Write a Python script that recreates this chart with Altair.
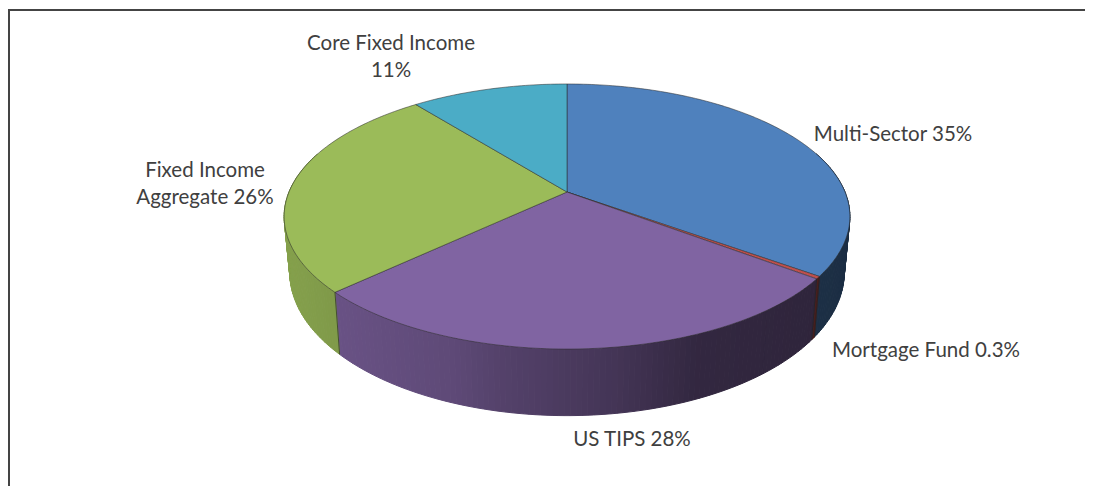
import math
import numpy as np
import altair as alt

# Data
names = ["Multi-Sector", "Mortgage Fund", "US TIPS", "Fixed Income Aggregate", "Core Fixed Income"]
shares = [35.0, 0.3, 27.7, 26.3, 10.7]
top_colors = ["#4f81bd", "#c0504d", "#8064a2", "#9bbb59", "#4bacc6"]
label_texts = ["Multi-Sector 35%", "Mortgage Fund 0.3%", "US TIPS 28%", "Fixed Income\nAggregate 26%", "Core Fixed Income\n11%"]

# Layout / style
W, H = 1077, 478
APEX = [559, 184]
RX, RY, PERSP = 278.0, 128.0, 0.185
BOTTOM_SX, BOTTOM_SY, BOTTOM_DY = 0.98, 1.08, 54.0
label_pos = [(885, 127), (918, 343), (624, 432), (197, 163), (383, 36)]
FONT = "Lato"
FONT_SIZE = 20.5
shade_x = [-283, -117, -67, 50, 130, 283]
shade_k = [0.86, 0.74, 0.66, 0.53, 0.40, 0.36]


def rim(frac):
    t = 2 * math.pi * frac
    x, y = math.sin(t), -math.cos(t)
    d = 1 - PERSP * y
    return RX * x / d, RY * y / d


def low(p):
    return p[0] * BOTTOM_SX, p[1] * BOTTOM_SY + BOTTOM_DY


def feature(coords, color, kind="Polygon"):
    geom = coords if kind == "LineString" else [coords]
    return {"type": "Feature", "properties": {"c": color},
            "geometry": {"type": kind, "coordinates": geom}}


def shaded(hex_color, x):
    k = float(np.interp(x, shade_x, shade_k))
    r, g, b = (int(hex_color[i:i + 2], 16) for i in (1, 3, 5))
    return "#%02x%02x%02x" % (int(r * k), int(g * k), int(b * k))


total = sum(shares)
walls, tops, edges = [], [], []
cum = 0.0
bounds = [0.0]
for share, color in zip(shares, top_colors):
    a, b = cum / total, (cum + share) / total
    cum += share
    bounds.append(b)
    n = max(2, int((b - a) * 360))
    fr = [a + (b - a) * i / n for i in range(n + 1)]
    for f0, f1 in zip(fr[:-1], fr[1:]):
        p0, p1 = rim(f0), rim(f1)
        q0, q1 = low(p0), low(p1)
        if 0.2 < (f0 + f1) / 2 < 0.8:
            walls.append(feature([p0, p1, q1, q0, p0], shaded(color, (p0[0] + p1[0]) / 2)))
    arc = [rim(f) for f in fr]
    tops.append(feature([[0, 0]] + arc + [[0, 0]], color))

for f in bounds:
    if 0.25 < f < 0.75:
        p = rim(f)
        edges.append(feature([p, low(p)], "#2a2a2a", "LineString"))

proj = dict(type="identity", scale=1, translate=APEX)

wall_layer = alt.Chart(alt.Data(values=walls)).mark_geoshape(strokeWidth=1).encode(
    fill=alt.Fill("properties.c:N", scale=None),
    stroke=alt.Stroke("properties.c:N", scale=None),
).project(**proj)

edge_layer = alt.Chart(alt.Data(values=edges)).mark_geoshape(
    filled=False, stroke="#222222", strokeWidth=0.8, strokeOpacity=0.8
).project(**proj)

top_layer = alt.Chart(alt.Data(values=tops)).mark_geoshape(
    stroke="#2b2b2b", strokeWidth=0.7, strokeOpacity=0.75
).encode(fill=alt.Fill("properties.c:N", scale=None)).project(**proj)

one = alt.Data(values=[{"k": 0}])
frame = [
    alt.Chart(one).mark_rule(color="#444444", strokeWidth=2).encode(
        x=alt.value(0), x2=alt.value(W), y=alt.value(2)),
    alt.Chart(one).mark_rule(color="#444444", strokeWidth=2).encode(
        x=alt.value(1), y=alt.value(1), y2=alt.value(H)),
]

labels = [
    alt.Chart(one).mark_text(
        font=FONT, fontSize=FONT_SIZE, color="#404040", align="center",
        baseline="middle", lineBreak="\n", lineHeight=27,
    ).encode(x=alt.value(px), y=alt.value(py), text=alt.value(t))
    for t, (px, py) in zip(label_texts, label_pos)
]

chart = alt.layer(wall_layer, edge_layer, top_layer, *frame, *labels).properties(
    width=W, height=H, padding=0,
    autosize=alt.AutoSizeParams(type="none"),
    background="white",
).configure_view(stroke=None)

chart.save("out.html", embed_options={"renderer": "svg", "actions": False})
